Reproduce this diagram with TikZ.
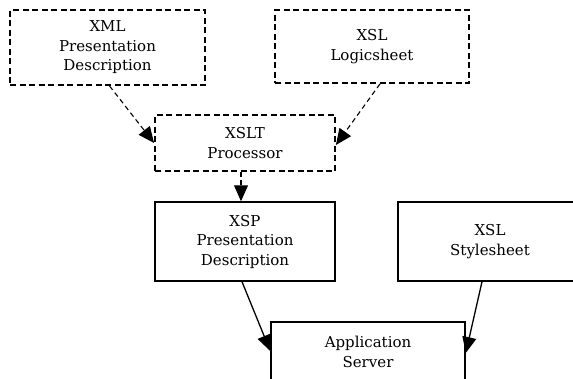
\documentclass[tikz,border=0pt]{standalone}
\usepackage{fontspec}
\setmainfont{DejaVu Serif}
\usetikzlibrary{arrows.meta}
\tikzset{
  box/.style={draw, line width=1.5pt, rectangle, align=center, inner sep=0pt,
    font=\fontsize{15}{19.5}\selectfont},
  dbox/.style={box, line width=1.8pt, dash pattern=on 6pt off 3.5pt},
  conn/.style={line width=1.3pt, -{Triangle[length=16pt,width=14pt]}},
  dconn/.style={conn, line width=1.1pt, dash pattern=on 5pt off 3.5pt},
}
\begin{document}
\begin{tikzpicture}[x=1pt,y=-1pt]
\useasboundingbox (0,0) rectangle (573,378);
\clip (0,0) rectangle (573,378);
\node[dbox, minimum width=195pt, minimum height=75pt] (xml) at (107.5,47.5) {XML\\Presentation\\Description};
\node[dbox, minimum width=194pt, minimum height=73pt] (logic) at (372,46.5) {XSL\\Logicsheet};
\node[dbox, minimum width=180pt, minimum height=56pt] (xslt) at (245,143) {XSLT\\Processor};
\node[box, minimum width=180pt, minimum height=79pt] (xsp) at (245,241.5) {XSP\\Presentation\\Description};
\node[box, minimum width=184pt, minimum height=79pt] (style) at (490,241.5) {XSL\\Stylesheet};
\node[box, minimum width=194pt, minimum height=60pt] (app) at (368,352) {Application\\Server};
\draw[dconn] ([xshift=2pt]xml.south) -- (xslt.west);
\draw[dconn] ([xshift=8pt]logic.south) -- ([yshift=-2pt]xslt.east);
\draw[dconn] ([xshift=-4pt]xslt.south) -- ([xshift=-4pt]xsp.north);
\draw[conn] ([xshift=-3pt]xsp.south) -- ([yshift=1pt]app.west);
\draw[conn] ([xshift=-8pt]style.south) -- ([yshift=-1pt]app.east);
\end{tikzpicture}
\end{document}
